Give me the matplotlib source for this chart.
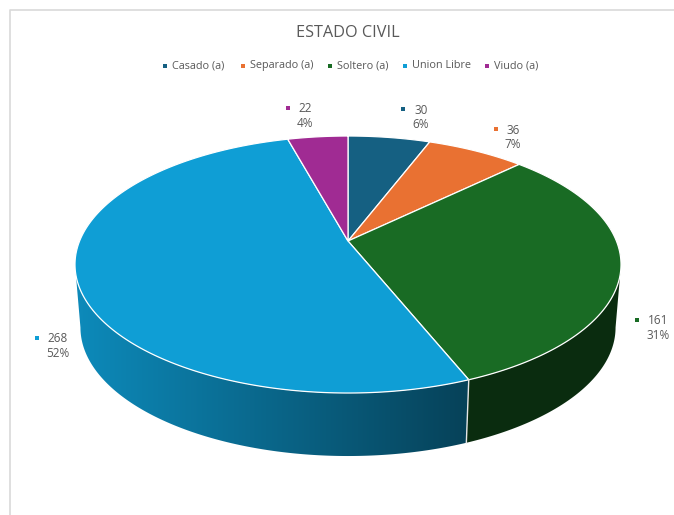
import numpy as np
from matplotlib import pyplot as plt
from matplotlib.colors import to_rgb
from matplotlib.patches import Polygon, Rectangle

categories = ['Casado (a)', 'Separado (a)', 'Soltero (a)', 'Union Libre', 'Viudo (a)']
values = [30, 36, 161, 268, 22]
percents = ['6%', '7%', '31%', '52%', '4%']
colors = ['#156082', '#E97132', '#196B24', '#0F9ED5', '#A02B93']

# pixel layout of the 3d pie, reference is 674x515
CX, CY = 348, 241
A, B, K = 268.4, 124.2, 0.183
DEPTH = 63
SHRINK = 0.98
TEXT_COLOR = '#595959'

legend_x = [165, 243, 330, 405, 487]
label_pos = [(403, 109, 421), (496, 129, 513), (637, 320, 658), (37, 338, 58), (288, 108, 305)]


def project(angle):
    # angle is clockwise from the top of the pie, perspective like in excel
    u, v = np.sin(angle), np.cos(angle)
    return CX + A * u / (1 + K * v), CY - B * v / (1 + K * v)


def lower(x, y):
    return CX + (x - CX) * SHRINK, y + DEPTH


def wall_image(color):
    # one row of pixels, darkens from left to right
    xx = np.arange(0, 675)
    f = np.interp(xx, [80, 464], [0.87, 0.42])
    return np.array(to_rgb(color))[None, None, :] * f[None, :, None]


plt.rcParams['font.family'] = ['Open Sans', 'DejaVu Sans']
fig = plt.figure(figsize=(6.74, 5.15), dpi=100)
ax = fig.add_axes([0, 0, 1, 1])

# chart frame, cut by the screenshot on the right and at the bottom
ax.plot([10, 10, 674], [515, 10, 10], color='#d9d9d9', lw=1.2)

edges = np.cumsum([0] + values) / sum(values) * 2 * np.pi

# only the front of the wall shows, it runs between the two widest points
front_start = np.arccos(-K)
front_end = 2 * np.pi - front_start

for i, color in enumerate(colors):
    start, end = max(edges[i], front_start), min(edges[i + 1], front_end)
    if start >= end:
        continue
    t = np.linspace(start, end, 200)
    x, y = project(t)
    xb, yb = lower(x, y)
    pts = np.column_stack([np.r_[x, xb[::-1]], np.r_[y, yb[::-1]]])
    outline = Polygon(pts, closed=True, facecolor='none', edgecolor='none')
    ax.add_patch(outline)
    im = ax.imshow(wall_image(color), extent=(0, 674, 515, 0), aspect='auto', zorder=2,
                   interpolation='bilinear')
    im.set_clip_path(outline)

# top of the pie
for i, color in enumerate(colors):
    t = np.linspace(edges[i], edges[i + 1], 200)
    x, y = project(t)
    pts = np.column_stack([np.r_[CX, x], np.r_[CY, y]])
    ax.add_patch(Polygon(pts, closed=True, facecolor=color, edgecolor='white', lw=0.9, zorder=3))

# separator on the front wall
for e in edges:
    x, y = project(e)
    if np.cos(e) < 0:
        xb, yb = lower(x, y)
        ax.plot([x, xb], [y, yb], color='#e6e6e6', lw=1.0, zorder=3)

ax.text(348, 33, 'ESTADO CIVIL', ha='center', va='center', fontsize=11.7, color=TEXT_COLOR)

for name, color, x in zip(categories, colors, legend_x):
    ax.add_patch(Rectangle((x - 2, 63.5), 4, 4, facecolor=color, edgecolor='none'))
    ax.text(x + 7, 65.5, name, ha='left', va='center', fontsize=7.8, color=TEXT_COLOR)

for val, pct, color, (mx, my, tx) in zip(values, percents, colors, label_pos):
    ax.add_patch(Rectangle((mx - 2, my - 2), 4, 4, facecolor=color, edgecolor='none'))
    ax.text(tx, my + 1, str(val), ha='center', va='center', fontsize=8.5, color=TEXT_COLOR)
    ax.text(tx, my + 15.5, pct, ha='center', va='center', fontsize=8.5, color=TEXT_COLOR)

ax.set_xlim(0, 674)
ax.set_ylim(515, 0)
ax.axis('off')
fig.savefig('out.png', dpi=100)
